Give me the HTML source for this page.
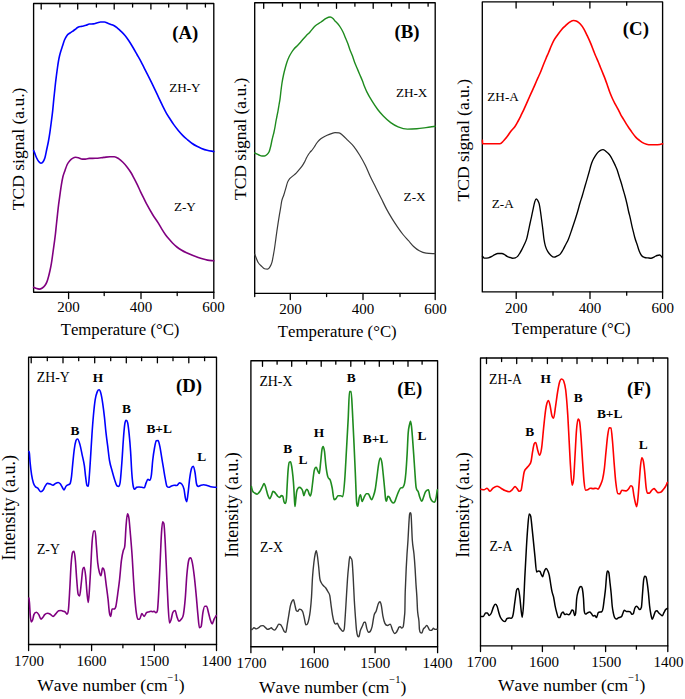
<!DOCTYPE html>
<html><head><meta charset="utf-8"><title>TPD and IR figure</title>
<style>
html,body{margin:0;padding:0;background:#fff;}
body{width:685px;height:699px;overflow:hidden;}
svg{display:block;}
text{font-family:"Liberation Serif",serif;fill:#000;font-kerning:none;}
</style></head>
<body>
<svg width="685" height="699" viewBox="0 0 685 699">
<rect width="685" height="699" fill="#fff"/>
<rect x="33.6" y="3.5" width="180.2" height="288.7" fill="none" stroke="#000" stroke-width="1.35" stroke-linejoin="round"/>
<line x1="41.2" y1="3.5" x2="41.2" y2="9.1" stroke="#000" stroke-width="1.3" stroke-linecap="round"/>
<line x1="59.9" y1="3.5" x2="59.9" y2="7" stroke="#000" stroke-width="1.3" stroke-linecap="round"/>
<line x1="77.7" y1="3.5" x2="77.7" y2="9.1" stroke="#000" stroke-width="1.3" stroke-linecap="round"/>
<line x1="96.4" y1="3.5" x2="96.4" y2="7" stroke="#000" stroke-width="1.3" stroke-linecap="round"/>
<line x1="114.2" y1="3.5" x2="114.2" y2="9.1" stroke="#000" stroke-width="1.3" stroke-linecap="round"/>
<line x1="132.6" y1="3.5" x2="132.6" y2="7" stroke="#000" stroke-width="1.3" stroke-linecap="round"/>
<line x1="150.9" y1="3.5" x2="150.9" y2="9.1" stroke="#000" stroke-width="1.3" stroke-linecap="round"/>
<line x1="168.7" y1="3.5" x2="168.7" y2="7" stroke="#000" stroke-width="1.3" stroke-linecap="round"/>
<line x1="187" y1="3.5" x2="187" y2="9.1" stroke="#000" stroke-width="1.3" stroke-linecap="round"/>
<line x1="205.4" y1="3.5" x2="205.4" y2="7" stroke="#000" stroke-width="1.3" stroke-linecap="round"/>
<line x1="68.6" y1="292.2" x2="68.6" y2="298.6" stroke="#000" stroke-width="1.3" stroke-linecap="round"/>
<line x1="104.2" y1="292.2" x2="104.2" y2="295.6" stroke="#000" stroke-width="1.3" stroke-linecap="round"/>
<line x1="141" y1="292.2" x2="141" y2="298.6" stroke="#000" stroke-width="1.3" stroke-linecap="round"/>
<line x1="177.2" y1="292.2" x2="177.2" y2="295.6" stroke="#000" stroke-width="1.3" stroke-linecap="round"/>
<line x1="213.8" y1="292.2" x2="213.8" y2="298.4" stroke="#000" stroke-width="1.3" stroke-linecap="round"/>
<text x="68.4" y="312.4" font-size="15" text-anchor="middle" font-weight="normal">200</text>
<text x="140.9" y="312.4" font-size="15" text-anchor="middle" font-weight="normal">400</text>
<text x="213.4" y="312.4" font-size="15" text-anchor="middle" font-weight="normal">600</text>
<text x="120.05" y="335" font-size="16.75" text-anchor="middle" font-weight="normal">Temperature (°C)</text>
<text x="0" y="0" font-size="17.5" text-anchor="middle" transform="translate(23.8,148.9) rotate(-90)">TCD signal (a.u.)</text>
<text x="185.3" y="38.7" font-size="18.8" text-anchor="middle" font-weight="bold">(A)</text>
<text x="184.9" y="91.5" font-size="13.2" text-anchor="middle" font-weight="normal">ZH-Y</text>
<text x="184.9" y="210.8" font-size="13.2" text-anchor="middle" font-weight="normal">Z-Y</text>
<path d="M33.6,150.5 C33.87,151.13 34.13,151.74 34.4,152.4 C35.07,154.04 35.73,156.07 36.4,157.5 C37.17,159.14 37.93,160.55 38.7,161.5 C39.47,162.45 40.23,163.2 41,163.2 C41.77,163.2 42.53,162.69 43.3,161.5 C43.87,160.62 44.43,159.5 45,157.5 C45.57,155.5 46.13,152.17 46.7,149.5 C47.27,146.83 47.83,144.57 48.4,141.5 C48.9,138.79 49.4,135.67 49.9,132.3 C50.37,129.15 50.83,125.62 51.3,122 C51.77,118.38 52.23,114.92 52.7,110.6 C53.07,107.21 53.43,102.85 53.8,99.2 C54.1,96.21 54.4,93.46 54.7,90.6 C54.97,88.06 55.23,85.33 55.5,83 C55.83,80.08 56.17,77.58 56.5,75 C56.83,72.42 57.17,69.83 57.5,67.5 C57.83,65.17 58.17,62.92 58.5,61 C58.83,59.08 59.17,57.45 59.5,56 C59.93,54.12 60.37,52.66 60.8,51.2 C61.37,49.29 61.93,47.72 62.5,46 C63.17,43.98 63.83,41.61 64.5,40 C65.33,37.98 66.17,36.5 67,35.4 C68,34.08 69,33.72 70,33 C70.83,32.4 71.67,31.98 72.5,31.4 C73.33,30.82 74.17,30.12 75,29.5 C76,28.75 77,27.79 78,27.3 C79.33,26.64 80.67,26.63 82,26.3 C83.37,25.96 84.73,25.74 86.1,25.3 C87.17,24.95 88.23,24.07 89.3,24 C90.63,23.92 91.97,23.96 93.3,23.9 C94.63,23.84 95.97,23.15 97.3,22.8 C98.37,22.52 99.43,22 100.5,22 C101.83,22 103.17,22 104.5,22 C105.6,22 106.7,22.79 107.8,23.2 C108.87,23.59 109.93,23.98 111,24.4 C112.07,24.82 113.13,25.08 114.2,25.7 C115.27,26.32 116.33,27.23 117.4,28.1 C118.6,29.08 119.8,30.14 121,31.3 C122.33,32.59 123.67,33.88 125,35.5 C126.33,37.12 127.67,39 129,41 C130.33,43 131.67,45.25 133,47.5 C134.33,49.75 135.67,52.15 137,54.5 C138.33,56.85 139.67,59.08 141,61.6 C142.17,63.8 143.33,66.3 144.5,68.6 C145.7,70.97 146.9,73.23 148.1,75.6 C149.27,77.9 150.43,80.22 151.6,82.6 C152.83,85.12 154.07,87.69 155.3,90.3 C156.43,92.7 157.57,95.19 158.7,97.6 C159.93,100.22 161.17,102.9 162.4,105.4 C163.67,107.97 164.93,110.54 166.2,112.8 C167.43,115 168.67,116.87 169.9,118.8 C171.13,120.73 172.37,122.67 173.6,124.4 C175.17,126.6 176.73,128.61 178.3,130.5 C179.83,132.35 181.37,134.06 182.9,135.6 C184.47,137.17 186.03,138.47 187.6,139.8 C189.13,141.1 190.67,142.43 192.2,143.5 C193.77,144.6 195.33,145.48 196.9,146.3 C198.43,147.11 199.97,147.79 201.5,148.4 C203.37,149.14 205.23,149.82 207.1,150.3 C209.33,150.88 211.57,151.1 213.8,151.5" fill="none" stroke="#0000ff" stroke-width="1.6" stroke-linejoin="round" stroke-linecap="round"/>
<path d="M33.6,287.3 C34.6,287.73 35.6,288.29 36.6,288.6 C37.47,288.87 38.33,289.1 39.2,289.1 C40.23,289.1 41.27,288.68 42.3,288 C43.17,287.43 44.03,286.7 44.9,285.5 C45.57,284.58 46.23,283.58 46.9,281.9 C47.43,280.55 47.97,278.67 48.5,276.7 C49,274.85 49.5,272.82 50,270.5 C50.47,268.34 50.93,266.09 51.4,263.3 C51.8,260.9 52.2,257.93 52.6,255.1 C52.93,252.74 53.27,250.22 53.6,247.8 C53.93,245.38 54.27,243.13 54.6,240.6 C54.9,238.32 55.2,236.08 55.5,233.4 C55.77,231.02 56.03,228.05 56.3,225.5 C56.7,221.67 57.1,218.01 57.5,214.4 C57.87,211.09 58.23,207.67 58.6,204.7 C59.03,201.19 59.47,198.2 59.9,195.1 C60.37,191.76 60.83,188.27 61.3,185.4 C61.83,182.12 62.37,179.05 62.9,176.8 C63.6,173.85 64.3,172.41 65,170.4 C65.73,168.3 66.47,166.02 67.2,164.5 C68.07,162.7 68.93,161.7 69.8,160.7 C70.7,159.66 71.6,158.93 72.5,158.4 C73.6,157.75 74.7,157.3 75.8,157.3 C76.87,157.3 77.93,157.7 79,158 C80.07,158.3 81.13,159.1 82.2,159.1 C83.27,159.1 84.33,159.1 85.4,159.1 C86.67,159.1 87.93,158.45 89.2,158.4 C91.2,158.31 93.2,158.35 95.2,158.3 C98.07,158.23 100.93,157.71 103.8,157.4 C105.87,157.18 107.93,156.7 110,156.7 C111.43,156.7 112.87,156.7 114.3,156.7 C115.73,156.7 117.17,157.67 118.6,158.6 C120.03,159.53 121.47,160.87 122.9,162.3 C124.33,163.73 125.77,165.36 127.2,167.2 C128.43,168.79 129.67,170.48 130.9,172.5 C131.97,174.25 133.03,176.37 134.1,178.4 C135.2,180.5 136.3,182.63 137.4,184.9 C138.47,187.1 139.53,189.57 140.6,191.8 C141.67,194.03 142.73,196.15 143.8,198.3 C144.87,200.45 145.93,202.7 147,204.7 C148.87,208.2 150.73,211.47 152.6,214.5 C154.57,217.69 156.53,220.12 158.5,223.3 C159.67,225.19 160.83,227.5 162,229.4 C163.17,231.3 164.33,233.08 165.5,234.7 C166.67,236.32 167.83,237.72 169,239.1 C170.17,240.48 171.33,241.82 172.5,243 C173.97,244.48 175.43,245.83 176.9,247 C178.37,248.17 179.83,249.11 181.3,250 C183.03,251.06 184.77,251.96 186.5,252.8 C188.27,253.66 190.03,254.39 191.8,255.1 C193.53,255.79 195.27,256.39 197,257 C198.77,257.62 200.53,258.28 202.3,258.8 C204.03,259.31 205.77,259.79 207.5,260.1 C209.6,260.48 211.7,260.57 213.8,260.8" fill="none" stroke="#800080" stroke-width="1.6" stroke-linejoin="round" stroke-linecap="round"/>
<rect x="254.7" y="2.7" width="180.5" height="290.7" fill="none" stroke="#000" stroke-width="1.35" stroke-linejoin="round"/>
<line x1="263.7" y1="2.7" x2="263.7" y2="8.3" stroke="#000" stroke-width="1.3" stroke-linecap="round"/>
<line x1="282.5" y1="2.7" x2="282.5" y2="6.2" stroke="#000" stroke-width="1.3" stroke-linecap="round"/>
<line x1="300.3" y1="2.7" x2="300.3" y2="8.3" stroke="#000" stroke-width="1.3" stroke-linecap="round"/>
<line x1="318.2" y1="2.7" x2="318.2" y2="6.2" stroke="#000" stroke-width="1.3" stroke-linecap="round"/>
<line x1="336.5" y1="2.7" x2="336.5" y2="8.3" stroke="#000" stroke-width="1.3" stroke-linecap="round"/>
<line x1="354.9" y1="2.7" x2="354.9" y2="6.2" stroke="#000" stroke-width="1.3" stroke-linecap="round"/>
<line x1="373.2" y1="2.7" x2="373.2" y2="8.3" stroke="#000" stroke-width="1.3" stroke-linecap="round"/>
<line x1="391.5" y1="2.7" x2="391.5" y2="6.2" stroke="#000" stroke-width="1.3" stroke-linecap="round"/>
<line x1="409.1" y1="2.7" x2="409.1" y2="8.3" stroke="#000" stroke-width="1.3" stroke-linecap="round"/>
<line x1="428.1" y1="2.7" x2="428.1" y2="6.2" stroke="#000" stroke-width="1.3" stroke-linecap="round"/>
<line x1="254.7" y1="293.4" x2="254.7" y2="296.5" stroke="#000" stroke-width="1.3" stroke-linecap="round"/>
<line x1="290.3" y1="293.4" x2="290.3" y2="299.5" stroke="#000" stroke-width="1.3" stroke-linecap="round"/>
<line x1="326.6" y1="293.4" x2="326.6" y2="296.5" stroke="#000" stroke-width="1.3" stroke-linecap="round"/>
<line x1="363" y1="293.4" x2="363" y2="299.5" stroke="#000" stroke-width="1.3" stroke-linecap="round"/>
<line x1="400" y1="293.4" x2="400" y2="296.5" stroke="#000" stroke-width="1.3" stroke-linecap="round"/>
<line x1="435.2" y1="293.4" x2="435.2" y2="299.5" stroke="#000" stroke-width="1.3" stroke-linecap="round"/>
<text x="290.4" y="313.7" font-size="15" text-anchor="middle" font-weight="normal">200</text>
<text x="363" y="313.7" font-size="15" text-anchor="middle" font-weight="normal">400</text>
<text x="435.4" y="313.7" font-size="15" text-anchor="middle" font-weight="normal">600</text>
<text x="337.25" y="336.7" font-size="16.75" text-anchor="middle" font-weight="normal">Temperature (°C)</text>
<text x="0" y="0" font-size="17.5" text-anchor="middle" transform="translate(245.5,138.8) rotate(-90)">TCD signal (a.u.)</text>
<text x="406.9" y="37.8" font-size="18.8" text-anchor="middle" font-weight="bold">(B)</text>
<text x="411.65" y="97.4" font-size="13.2" text-anchor="middle" font-weight="normal">ZH-X</text>
<text x="414.6" y="201" font-size="13.2" text-anchor="middle" font-weight="normal">Z-X</text>
<path d="M254.7,153 C256.13,153.67 257.57,154.43 259,155 C260,155.4 261,156 262,156 C262.83,156 263.67,156 264.5,156 C265.33,156 266.17,155.27 267,154.5 C267.67,153.88 268.33,153.42 269,152 C269.33,151.29 269.67,150.17 270,149 C270.33,147.83 270.67,146.5 271,145 C271.33,143.5 271.67,141.5 272,140 C272.33,138.5 272.67,137.33 273,136 C273.33,134.67 273.67,133.5 274,132 C274.33,130.5 274.67,128.83 275,127 C275.33,125.17 275.67,122.83 276,121 C276.33,119.17 276.67,117.67 277,116 C277.33,114.33 277.67,112.83 278,111 C278.33,109.17 278.67,106.97 279,105 C279.33,103.03 279.67,101.62 280,99.2 C280.33,96.78 280.67,93.2 281,90.5 C281.33,87.8 281.67,85.14 282,83 C282.5,79.79 283,77.33 283.5,75 C284.17,71.89 284.83,69.44 285.5,67 C286,65.17 286.5,63.46 287,62 C287.67,60.06 288.33,58.43 289,57 C289.83,55.21 290.67,53.83 291.5,52.5 C292.33,51.17 293.17,50 294,49 C295.33,47.4 296.67,46.42 298,45 C299.33,43.58 300.67,42 302,40.5 C303.33,39 304.67,37.42 306,36 C307.33,34.58 308.67,33.45 310,32 C311.7,30.15 313.4,27.57 315.1,26 C317.1,24.16 319.1,23.39 321.1,22 C322.77,20.84 324.43,19.28 326.1,18.4 C327.47,17.67 328.83,17 330.2,17 C331.13,17 332.07,17.67 333,18.5 C333.67,19.1 334.33,20.25 335,21 C336,22.12 337,22.8 338,24 C338.83,25 339.67,26.17 340.5,27.5 C341.33,28.83 342.17,30.25 343,32 C343.83,33.75 344.67,36 345.5,38 C346.33,40 347.17,41.75 348,44 C348.67,45.8 349.33,48.2 350,50 C350.83,52.25 351.67,53.75 352.5,56 C353.17,57.8 353.83,60.2 354.5,62 C355.33,64.25 356.17,66 357,68 C357.83,70 358.67,72.02 359.5,74 C360.47,76.29 361.43,78.34 362.4,80.8 C363.07,82.5 363.73,84.62 364.4,86.3 C365.17,88.24 365.93,90.04 366.7,91.6 C368.5,95.27 370.3,98.27 372.1,101.2 C373.97,104.24 375.83,107.03 377.7,109.5 C379.57,111.97 381.43,114.08 383.3,116 C385.77,118.53 388.23,120.8 390.7,122.6 C393.17,124.4 395.63,125.79 398.1,126.8 C401.2,128.06 404.3,129.1 407.4,129.1 C410.5,129.1 413.6,128.95 416.7,128.7 C419.8,128.45 422.9,128 426,127.6 C429.07,127.2 432.13,126.73 435.2,126.3" fill="none" stroke="#1e8b1e" stroke-width="1.4" stroke-linejoin="round" stroke-linecap="round"/>
<path d="M254.7,254.2 C255.8,256.87 256.9,260.26 258,262.2 C259.33,264.55 260.67,265.31 262,266.6 C262.83,267.41 263.67,268.38 264.5,268.7 C265.53,269.1 266.57,269.1 267.6,269.1 C268.43,269.1 269.27,267.98 270.1,266.6 C270.73,265.55 271.37,264.57 272,262.2 C272.4,260.7 272.8,258.19 273.2,256 C273.63,253.63 274.07,251.32 274.5,248.5 C274.9,245.9 275.3,242.7 275.7,239.8 C276.1,236.9 276.5,233.89 276.9,231.1 C277.33,228.08 277.77,225.2 278.2,222.4 C278.6,219.81 279,217.3 279.4,214.9 C279.83,212.3 280.27,209.99 280.7,207.4 C281.03,205.41 281.37,202.73 281.7,201.2 C282.4,198 283.1,197.23 283.8,195 C284.5,192.77 285.2,190.17 285.9,187.8 C286.47,185.88 287.03,183.51 287.6,182.1 C288.3,180.36 289,179.57 289.7,178.7 C290.7,177.46 291.7,176.96 292.7,176.1 C293.87,175.09 295.03,174.27 296.2,173.1 C297.33,171.96 298.47,170.59 299.6,169.2 C300.47,168.14 301.33,167.07 302.2,165.8 C302.9,164.78 303.6,163.69 304.3,162.4 C304.87,161.36 305.43,160.02 306,158.9 C306.6,157.72 307.2,156.5 307.8,155.5 C308.5,154.34 309.2,153.4 309.9,152.5 C310.77,151.38 311.63,150.62 312.5,149.5 C313.2,148.6 313.9,147.56 314.6,146.5 C315.33,145.39 316.07,144.01 316.8,143 C317.67,141.81 318.53,140.82 319.4,140 C320.53,138.93 321.67,138.21 322.8,137.5 C324.23,136.61 325.67,135.95 327.1,135.3 C328.53,134.65 329.97,134.06 331.4,133.6 C332.6,133.21 333.8,132.7 335,132.7 C336.37,132.7 337.73,132.7 339.1,132.8 C340.27,132.89 341.43,134.23 342.6,135.2 C344.37,136.67 346.13,138.63 347.9,140.4 C349.83,142.33 351.77,143.89 353.7,146.3 C355.67,148.75 357.63,151.77 359.6,155 C361.53,158.18 363.47,161.57 365.4,165.5 C367.07,168.89 368.73,173.27 370.4,176.8 C372.23,180.69 374.07,184.05 375.9,187.7 C377.7,191.28 379.5,194.88 381.3,198.5 C383.1,202.12 384.9,206.03 386.7,209.4 C388.53,212.83 390.37,215.92 392.2,218.9 C394,221.82 395.8,224.5 397.6,227.1 C399.4,229.7 401.2,232.25 403,234.5 C404.83,236.79 406.67,238.63 408.5,240.7 C410.3,242.73 412.1,245.12 413.9,246.8 C415.7,248.48 417.5,249.82 419.3,250.8 C421.57,252.04 423.83,252.91 426.1,253.2 C429.13,253.59 432.17,253.51 435.2,253.6" fill="none" stroke="#3a3a3a" stroke-width="1.2" stroke-linejoin="round" stroke-linecap="round"/>
<rect x="482.3" y="1.9" width="180.3" height="290" fill="none" stroke="#000" stroke-width="1.35" stroke-linejoin="round"/>
<line x1="516.1" y1="1.9" x2="516.1" y2="8.1" stroke="#000" stroke-width="1.3" stroke-linecap="round"/>
<line x1="553.3" y1="1.9" x2="553.3" y2="5.2" stroke="#000" stroke-width="1.3" stroke-linecap="round"/>
<line x1="589.9" y1="1.9" x2="589.9" y2="8.1" stroke="#000" stroke-width="1.3" stroke-linecap="round"/>
<line x1="626.7" y1="1.9" x2="626.7" y2="5.2" stroke="#000" stroke-width="1.3" stroke-linecap="round"/>
<line x1="516.2" y1="291.9" x2="516.2" y2="298.4" stroke="#000" stroke-width="1.3" stroke-linecap="round"/>
<line x1="553" y1="291.9" x2="553" y2="295.2" stroke="#000" stroke-width="1.3" stroke-linecap="round"/>
<line x1="590" y1="291.9" x2="590" y2="298.4" stroke="#000" stroke-width="1.3" stroke-linecap="round"/>
<line x1="626.7" y1="291.9" x2="626.7" y2="295.2" stroke="#000" stroke-width="1.3" stroke-linecap="round"/>
<line x1="662.6" y1="291.9" x2="662.6" y2="298.4" stroke="#000" stroke-width="1.3" stroke-linecap="round"/>
<text x="516.3" y="312.8" font-size="15" text-anchor="middle" font-weight="normal">200</text>
<text x="589.9" y="312.8" font-size="15" text-anchor="middle" font-weight="normal">400</text>
<text x="662.8" y="312.8" font-size="15" text-anchor="middle" font-weight="normal">600</text>
<text x="571.15" y="333.5" font-size="16.75" text-anchor="middle" font-weight="normal">Temperature (°C)</text>
<text x="0" y="0" font-size="17.5" text-anchor="middle" transform="translate(468.6,140.2) rotate(-90)">TCD signal (a.u.)</text>
<text x="635.9" y="34.9" font-size="18.8" text-anchor="middle" font-weight="bold">(C)</text>
<text x="503.05" y="101.2" font-size="13.2" text-anchor="middle" font-weight="normal">ZH-A</text>
<text x="502.7" y="207.7" font-size="13.2" text-anchor="middle" font-weight="normal">Z-A</text>
<path d="M482.4,140.3 C482.47,141.43 482.53,143.7 482.6,143.7 C485.73,143.7 488.87,143.7 492,143.7 C494.67,143.7 497.33,143.7 500,143.7 C501.2,143.7 502.4,141.98 503.6,140.8 C504.8,139.62 506,138.17 507.2,136.6 C508.37,135.07 509.53,133.03 510.7,131.5 C512.13,129.62 513.57,128.57 515,126.5 C515.97,125.1 516.93,123.28 517.9,121.5 C518.87,119.72 519.83,117.73 520.8,115.8 C521.73,113.93 522.67,112.1 523.6,110.1 C524.57,108.03 525.53,105.79 526.5,103.6 C527.43,101.49 528.37,99.3 529.3,97.2 C530.27,95.03 531.23,92.95 532.2,90.8 C533.17,88.65 534.13,86.49 535.1,84.3 C536.03,82.19 536.97,80 537.9,77.9 C538.87,75.73 539.83,73.81 540.8,71.5 C541.73,69.27 542.67,66.64 543.6,64.3 C544.43,62.21 545.27,60.17 546.1,58.2 C546.93,56.23 547.77,54.48 548.6,52.5 C549.37,50.68 550.13,48.57 550.9,46.8 C551.93,44.42 552.97,42.07 554,40.2 C555.17,38.09 556.33,36.64 557.5,35 C558.83,33.13 560.17,31.25 561.5,29.7 C562.8,28.19 564.1,27.03 565.4,25.8 C566.7,24.57 568,23.18 569.3,22.3 C570.63,21.4 571.97,20.5 573.3,20.5 C574.47,20.5 575.63,20.62 576.8,21.2 C577.97,21.78 579.13,22.73 580.3,24 C581.47,25.27 582.63,26.83 583.8,28.8 C584.9,30.65 586,33.08 587.1,35.4 C588.33,38 589.57,40.64 590.8,43.6 C591.77,45.92 592.73,48.65 593.7,51.1 C594.47,53.04 595.23,54.98 596,56.8 C596.77,58.62 597.53,60.18 598.3,62 C599.07,63.82 599.83,65.8 600.6,67.7 C601.37,69.6 602.13,71.5 602.9,73.4 C603.67,75.3 604.43,77.07 605.2,79.1 C605.9,80.95 606.6,83 607.3,85 C608.1,87.29 608.9,89.87 609.7,92 C610.6,94.4 611.5,96.52 612.4,98.5 C613.33,100.56 614.27,102.32 615.2,104.1 C616.13,105.88 617.07,107.42 618,109.2 C618.93,110.98 619.87,113.1 620.8,114.8 C621.73,116.5 622.67,117.85 623.6,119.4 C624.53,120.95 625.47,122.62 626.4,124.1 C627.33,125.58 628.27,126.92 629.2,128.3 C630.13,129.68 631.07,131.12 632,132.4 C633.23,134.09 634.47,135.78 635.7,137.1 C636.93,138.42 638.17,139.36 639.4,140.3 C640.97,141.49 642.53,142.66 644.1,143.4 C645.63,144.12 647.17,144.62 648.7,144.7 C650.57,144.8 652.43,144.8 654.3,144.8 C656.17,144.8 658.03,144.79 659.9,144.5 C660.8,144.36 661.7,144.03 662.6,143.8" fill="none" stroke="#ff0000" stroke-width="1.6" stroke-linejoin="round" stroke-linecap="round"/>
<path d="M482.4,256.3 C483.03,256.9 483.67,258.1 484.3,258.1 C485.67,258.1 487.03,258.1 488.4,257.8 C489.57,257.54 490.73,257 491.9,256.4 C492.87,255.91 493.83,255.08 494.8,254.6 C495.8,254.11 496.8,253.5 497.8,253.5 C499.17,253.5 500.53,253.5 501.9,253.5 C502.67,253.5 503.43,253.89 504.2,254.3 C505.17,254.82 506.13,255.87 507.1,256.4 C508.07,256.93 509.03,257.18 510,257.5 C510.8,257.77 511.6,258.2 512.4,258.2 C513.37,258.2 514.33,258.16 515.3,257.8 C516.07,257.51 516.83,257.21 517.6,256.4 C518.4,255.56 519.2,254.08 520,252.8 C520.57,251.89 521.13,250.96 521.7,249.9 C522.57,248.28 523.43,246.56 524.3,244.6 C525.13,242.72 525.97,241.31 526.8,238.4 C527.33,236.54 527.87,233.68 528.4,231.2 C528.9,228.88 529.4,226.32 529.9,224 C530.43,221.52 530.97,219.28 531.5,216.8 C532,214.48 532.5,211.92 533,209.6 C533.53,207.12 534.07,204.24 534.6,202.4 C535.1,200.68 535.6,198.8 536.1,198.8 C536.63,198.8 537.17,199.41 537.7,200.3 C538.2,201.13 538.7,201.82 539.2,203.9 C539.63,205.7 540.07,208.68 540.5,211.6 C540.87,214.07 541.23,217.11 541.6,219.9 C542,222.94 542.4,225.85 542.8,229.1 C543.2,232.35 543.6,236.73 544,239.4 C544.47,242.52 544.93,244.47 545.4,246.1 C546.27,249.12 547.13,250.33 548,251.8 C549,253.5 550,254.53 551,255.4 C552.03,256.3 553.07,257.1 554.1,257.1 C555.13,257.1 556.17,256.38 557.2,255.9 C558.13,255.47 559.07,255.36 560,254.4 C560.97,253.41 561.93,251.66 562.9,250 C563.77,248.51 564.63,246.7 565.5,245 C566.5,243.04 567.5,241.43 568.5,239 C569.67,236.17 570.83,232.42 572,229 C573,226.07 574,223.1 575,220 C575.83,217.42 576.67,214.83 577.5,212 C578.33,209.17 579.17,205.83 580,203 C580.83,200.17 581.67,197.8 582.5,195 C583.4,191.98 584.3,188.6 585.2,185.5 C585.9,183.09 586.6,180.82 587.3,178.4 C588,175.98 588.7,173.53 589.4,171 C589.87,169.31 590.33,167.31 590.8,165.8 C591.43,163.76 592.07,162.04 592.7,160.6 C593.57,158.63 594.43,157.27 595.3,155.9 C596.17,154.53 597.03,153.33 597.9,152.4 C598.77,151.47 599.63,150.77 600.5,150.3 C601.33,149.85 602.17,149.6 603,149.6 C603.73,149.6 604.47,150.19 605.2,150.7 C606.03,151.27 606.87,152.05 607.7,152.9 C608.57,153.78 609.43,154.62 610.3,155.9 C611.17,157.18 612.03,158.93 612.9,160.6 C613.6,161.95 614.3,163.37 615,164.9 C615.73,166.5 616.47,167.95 617.2,170 C617.9,171.96 618.6,174.65 619.3,176.9 C620.03,179.25 620.77,181.36 621.5,183.8 C622.07,185.69 622.63,187.82 623.2,189.8 C623.8,191.89 624.4,193.77 625,196 C625.67,198.48 626.33,201.1 627,204 C627.53,206.32 628.07,209.18 628.6,211.5 C629.13,213.82 629.67,215.58 630.2,217.9 C630.73,220.22 631.27,223.07 631.8,225.4 C632.33,227.73 632.87,229.75 633.4,231.9 C633.93,234.05 634.47,236.45 635,238.3 C635.73,240.85 636.47,242.6 637.2,244.8 C637.9,246.9 638.6,249.45 639.3,251.2 C640.03,253.03 640.77,254.55 641.5,255.5 C642.57,256.88 643.63,257.12 644.7,257.5 C645.77,257.88 646.83,257.79 647.9,257.9 C648.97,258.01 650.03,258.2 651.1,258.2 C652.2,258.2 653.3,257.3 654.4,256.8 C655.3,256.39 656.2,255.8 657.1,255.5 C657.97,255.21 658.83,255 659.7,255 C660.6,255 661.5,256.8 662.4,257.7" fill="none" stroke="#000000" stroke-width="1.35" stroke-linejoin="round" stroke-linecap="round"/>
<rect x="28.6" y="357.2" width="187.9" height="287.3" fill="none" stroke="#000" stroke-width="1.35" stroke-linejoin="round"/>
<line x1="31.2" y1="357.2" x2="31.2" y2="362.8" stroke="#000" stroke-width="1.3" stroke-linecap="round"/>
<line x1="47.3" y1="357.2" x2="47.3" y2="360.7" stroke="#000" stroke-width="1.3" stroke-linecap="round"/>
<line x1="63" y1="357.2" x2="63" y2="362.8" stroke="#000" stroke-width="1.3" stroke-linecap="round"/>
<line x1="78.7" y1="357.2" x2="78.7" y2="360.7" stroke="#000" stroke-width="1.3" stroke-linecap="round"/>
<line x1="94.7" y1="357.2" x2="94.7" y2="362.8" stroke="#000" stroke-width="1.3" stroke-linecap="round"/>
<line x1="110.7" y1="357.2" x2="110.7" y2="360.7" stroke="#000" stroke-width="1.3" stroke-linecap="round"/>
<line x1="126.3" y1="357.2" x2="126.3" y2="362.8" stroke="#000" stroke-width="1.3" stroke-linecap="round"/>
<line x1="141.6" y1="357.2" x2="141.6" y2="360.7" stroke="#000" stroke-width="1.3" stroke-linecap="round"/>
<line x1="157.4" y1="357.2" x2="157.4" y2="362.8" stroke="#000" stroke-width="1.3" stroke-linecap="round"/>
<line x1="173" y1="357.2" x2="173" y2="360.7" stroke="#000" stroke-width="1.3" stroke-linecap="round"/>
<line x1="188.8" y1="357.2" x2="188.8" y2="362.8" stroke="#000" stroke-width="1.3" stroke-linecap="round"/>
<line x1="204.6" y1="357.2" x2="204.6" y2="360.7" stroke="#000" stroke-width="1.3" stroke-linecap="round"/>
<line x1="28.6" y1="644.5" x2="28.6" y2="650.5" stroke="#000" stroke-width="1.3" stroke-linecap="round"/>
<line x1="60.1" y1="644.5" x2="60.1" y2="647.8" stroke="#000" stroke-width="1.3" stroke-linecap="round"/>
<line x1="91.6" y1="644.5" x2="91.6" y2="650.5" stroke="#000" stroke-width="1.3" stroke-linecap="round"/>
<line x1="122.9" y1="644.5" x2="122.9" y2="647.8" stroke="#000" stroke-width="1.3" stroke-linecap="round"/>
<line x1="154.3" y1="644.5" x2="154.3" y2="650.5" stroke="#000" stroke-width="1.3" stroke-linecap="round"/>
<line x1="185.4" y1="644.5" x2="185.4" y2="647.8" stroke="#000" stroke-width="1.3" stroke-linecap="round"/>
<line x1="216.5" y1="644.5" x2="216.5" y2="650.5" stroke="#000" stroke-width="1.3" stroke-linecap="round"/>
<text x="29" y="665.5" font-size="15" text-anchor="middle" font-weight="normal">1700</text>
<text x="91.6" y="665.5" font-size="15" text-anchor="middle" font-weight="normal">1600</text>
<text x="154.2" y="665.5" font-size="15" text-anchor="middle" font-weight="normal">1500</text>
<text x="216.6" y="665.5" font-size="15" text-anchor="middle" font-weight="normal">1400</text>
<text x="37.3" y="690.6" font-size="17.5">Wave number (cm<tspan dy="-9.6" font-size="10.5">&#8722;1</tspan><tspan dy="9.6">)</tspan></text>
<text x="0" y="0" font-size="18" text-anchor="middle" transform="translate(14.9,507.85) rotate(-90)">Intensity (a.u.)</text>
<text x="189" y="391.6" font-size="18.8" text-anchor="middle" font-weight="bold">(D)</text>
<text x="53.35" y="382.4" font-size="13.8" text-anchor="middle" font-weight="normal">ZH-Y</text>
<text x="48.4" y="554.2" font-size="13.8" text-anchor="middle" font-weight="normal">Z-Y</text>
<text x="98" y="382.2" font-size="13.4" text-anchor="middle" font-weight="bold">H</text>
<text x="75" y="434.7" font-size="13.4" text-anchor="middle" font-weight="bold">B</text>
<text x="126.45" y="413.1" font-size="13.4" text-anchor="middle" font-weight="bold">B</text>
<text x="159.2" y="432.9" font-size="13.4" text-anchor="middle" font-weight="bold">B+L</text>
<text x="201.6" y="460.9" font-size="13.4" text-anchor="middle" font-weight="bold">L</text>
<path d="M28.9,451.5 C29.07,452.1 29.23,451.93 29.4,453.3 C29.63,455.22 29.87,459.83 30.1,462.3 C30.6,467.6 31.1,471.59 31.6,474.8 C32.2,478.65 32.8,480.97 33.4,482.9 C34,484.83 34.6,485.61 35.2,486.4 C36.07,487.54 36.93,487.4 37.8,488.2 C38.83,489.16 39.87,491.8 40.9,491.8 C41.67,491.8 42.43,491.07 43.2,490 C43.8,489.17 44.4,487.39 45,486.4 C45.77,485.13 46.53,483.4 47.3,483.4 C48.33,483.4 49.37,483.76 50.4,484.1 C51.27,484.38 52.13,485.2 53,485.2 C53.9,485.2 54.8,483.87 55.7,483.4 C56.5,482.98 57.3,482.5 58.1,482.5 C58.8,482.5 59.5,483 60.2,483.8 C60.9,484.6 61.6,486.19 62.3,487.3 C62.9,488.25 63.5,490 64.1,490 C64.7,490 65.3,487.22 65.9,486.4 C66.67,485.35 67.43,484.96 68.2,484.7 C68.8,484.5 69.4,484.68 70,483.8 C70.5,483.07 71,480.4 71.5,476.6 C71.9,473.56 72.3,468.09 72.7,464.1 C73.2,459.11 73.7,453.51 74.2,449.8 C74.77,445.6 75.33,442.6 75.9,440.8 C76.47,439 77.03,439 77.6,439 C78.37,439 79.13,441.72 79.9,444.4 C80.67,447.08 81.43,451.43 82.2,455.1 C82.93,458.61 83.67,460.83 84.4,465.9 C84.8,468.67 85.2,473.55 85.6,476.6 C86.07,480.16 86.53,484.75 87,485.5 C87.43,486.2 87.87,486.2 88.3,486.2 C88.67,486.2 89.03,479.48 89.4,474.8 C89.83,469.27 90.27,461.92 90.7,455.1 C91.1,448.8 91.5,441.39 91.9,435.5 C92.4,428.13 92.9,421.32 93.4,415.8 C94,409.18 94.6,403.54 95.2,399.7 C95.9,395.22 96.6,393.3 97.3,391.6 C97.9,390.14 98.5,389.8 99.1,389.8 C99.7,389.8 100.3,391.15 100.9,393.4 C101.5,395.65 102.1,399.27 102.7,403.3 C103.3,407.33 103.9,412.15 104.5,417.6 C104.97,421.84 105.43,427.66 105.9,431.9 C106.5,437.35 107.1,441.43 107.7,446.2 C108.3,450.97 108.9,456.93 109.5,460.5 C110.4,465.86 111.3,467.86 112.2,471.2 C113.07,474.42 113.93,477.58 114.8,480.2 C115.53,482.42 116.27,485.29 117,485.9 C117.6,486.4 118.2,486.4 118.8,486.4 C119.27,486.4 119.73,485.52 120.2,482 C120.8,477.47 121.4,468.69 122,460.5 C122.47,454.13 122.93,445.15 123.4,439 C123.83,433.29 124.27,427.76 124.7,424.7 C125.17,421.4 125.63,420.3 126.1,420.3 C126.63,420.3 127.17,420.41 127.7,422.9 C128.17,425.08 128.63,429.12 129.1,433.7 C129.6,438.61 130.1,444.16 130.6,451.6 C131,457.55 131.4,467.51 131.8,473 C132.23,478.95 132.67,482.86 133.1,485.5 C133.57,488.34 134.03,489.1 134.5,489.1 C135.23,489.1 135.97,487.59 136.7,487.3 C137.47,487 138.23,487 139,487 C139.9,487 140.8,487.18 141.7,487.3 C142.6,487.42 143.5,487.7 144.4,487.7 C144.97,487.7 145.53,484.27 146.1,482.9 C146.7,481.45 147.3,479.3 147.9,479.3 C148.5,479.3 149.1,480.2 149.7,480.2 C150.27,480.2 150.83,478.82 151.4,474.8 C151.83,471.73 152.27,464.39 152.7,460.5 C153.3,455.12 153.9,451.28 154.5,448 C155.1,444.72 155.7,441.1 156.3,440.8 C156.9,440.5 157.5,440.5 158.1,440.5 C158.67,440.5 159.23,443.57 159.8,446.2 C160.4,448.99 161,453.32 161.6,456.9 C162.2,460.48 162.8,464.12 163.4,467.7 C164,471.28 164.6,475.28 165.2,478.4 C165.8,481.52 166.4,485.5 167,486.4 C167.6,487.3 168.2,487.3 168.8,487.3 C169.7,487.3 170.6,486.25 171.5,485.9 C172.4,485.55 173.3,485.2 174.2,485.2 C175.07,485.2 175.93,485.5 176.8,485.5 C177.7,485.5 178.6,482.9 179.5,482.9 C180.27,482.9 181.03,483.03 181.8,484.1 C182.53,485.12 183.27,485.91 184,489.1 C184.47,491.13 184.93,495.97 185.4,498.1 C185.83,500.08 186.27,501.6 186.7,501.6 C187.1,501.6 187.5,497.47 187.9,494.5 C188.5,490.04 189.1,482.72 189.7,478.4 C190.3,474.08 190.9,470.63 191.5,468.6 C192.1,466.57 192.7,466.2 193.3,466.2 C193.9,466.2 194.5,469.55 195.1,473 C195.57,475.68 196.03,481.78 196.5,483.8 C197.1,486.4 197.7,486.4 198.3,486.4 C199.2,486.4 200.1,485.48 201,485.2 C201.9,484.92 202.8,484.7 203.7,484.7 C204.87,484.7 206.03,485.16 207.2,485.5 C208.4,485.85 209.6,486.53 210.8,486.8 C212.63,487.21 214.47,487.13 216.3,487.3" fill="none" stroke="#0000ff" stroke-width="1.6" stroke-linejoin="round" stroke-linecap="round"/>
<path d="M28.9,598 C29.1,599.8 29.3,600.9 29.5,603.4 C29.73,606.32 29.97,611.95 30.2,614.6 C30.57,618.77 30.93,622 31.3,622 C31.73,622 32.17,621.33 32.6,620.1 C33.03,618.87 33.47,615.72 33.9,614.6 C34.73,612.45 35.57,612.3 36.4,612.3 C37.2,612.3 38,613.38 38.8,614.6 C39.53,615.72 40.27,619.2 41,619.2 C41.63,619.2 42.27,618.09 42.9,617.3 C43.5,616.55 44.1,615.19 44.7,614.6 C45.63,613.68 46.57,613.3 47.5,613.3 C48.43,613.3 49.37,613.68 50.3,614.2 C51.23,614.72 52.17,616.4 53.1,616.4 C54.03,616.4 54.97,614.55 55.9,613.6 C56.8,612.68 57.7,611.12 58.6,610.8 C59.43,610.5 60.27,610.5 61.1,610.5 C61.83,610.5 62.57,610.96 63.3,611.2 C63.9,611.4 64.5,611.32 65.1,611.8 C65.73,612.31 66.37,614.2 67,614.2 C67.5,614.2 68,613.79 68.5,609 C68.93,604.85 69.37,596.03 69.8,588.6 C70.23,581.17 70.67,570.17 71.1,564.4 C71.6,557.75 72.1,553.4 72.6,552.4 C73.1,551.4 73.6,551.4 74.1,551.4 C74.53,551.4 74.97,556.05 75.4,560.7 C75.83,565.35 76.27,573.91 76.7,579.3 C77.17,585.11 77.63,592.33 78.1,594.1 C78.6,596 79.1,596 79.6,596 C80.17,596 80.73,587.79 81.3,583 C81.8,578.77 82.3,571.29 82.8,569.1 C83.23,567.2 83.67,567.2 84.1,567.2 C84.6,567.2 85.1,571.12 85.6,575.6 C86.1,580.08 86.6,589.27 87.1,594.1 C87.5,597.97 87.9,602.5 88.3,602.5 C88.7,602.5 89.1,594.35 89.5,588.6 C89.93,582.37 90.37,574.05 90.8,566.3 C91.23,558.55 91.67,547.74 92.1,542.1 C92.6,535.6 93.1,531 93.6,531 C94.1,531 94.6,531 95.1,531 C95.53,531 95.97,540.63 96.4,545.9 C96.83,551.17 97.27,558.59 97.7,562.6 C98.3,568.15 98.9,570.54 99.5,572.8 C100,574.68 100.5,575.6 101,575.6 C101.5,575.6 102,568.1 102.5,568.1 C103.1,568.1 103.7,568.24 104.3,570.9 C104.93,573.71 105.57,580 106.2,584.8 C106.83,589.6 107.47,594.05 108.1,599.7 C108.53,603.57 108.97,609.92 109.4,612.7 C109.83,615.48 110.27,616.4 110.7,616.4 C111.17,616.4 111.63,609 112.1,609 C112.73,609 113.37,609 114,609 C114.63,609 115.27,608.8 115.9,606.2 C116.5,603.74 117.1,598.45 117.7,594.1 C118.33,589.5 118.97,585.04 119.6,579.3 C120.2,573.86 120.8,565.41 121.4,560.7 C122.03,555.73 122.67,552.88 123.3,550.5 C123.8,548.62 124.3,550.1 124.8,545.9 C125.23,542.26 125.67,530.73 126.1,525.4 C126.53,520.07 126.97,513.9 127.4,513.9 C127.9,513.9 128.4,514.66 128.9,518 C129.37,521.12 129.83,527.46 130.3,532.9 C130.93,540.29 131.57,547.55 132.2,557 C132.63,563.46 133.07,572.48 133.5,579.3 C133.93,586.12 134.37,592.66 134.8,597.9 C135.3,603.94 135.8,609.15 136.3,612.7 C136.8,616.25 137.3,619.2 137.8,619.2 C138.4,619.2 139,619.2 139.6,619.2 C140.37,619.2 141.13,613.6 141.9,613.6 C142.63,613.6 143.37,616.4 144.1,616.4 C144.9,616.4 145.7,613.43 146.5,612.7 C147.43,611.85 148.37,612.1 149.3,611.8 C149.9,611.61 150.5,611.2 151.1,611.2 C151.6,611.2 152.1,611.8 152.6,611.8 C153.1,611.8 153.6,611.2 154.1,611.2 C154.7,611.2 155.3,612.7 155.9,612.7 C156.4,612.7 156.9,612.7 157.4,610.8 C157.9,608.9 158.4,597.67 158.9,588.6 C159.33,580.74 159.77,569.98 160.2,560.7 C160.63,551.42 161.07,539.74 161.5,532.9 C161.87,527.11 162.23,521.7 162.6,521.7 C163.03,521.7 163.47,521.7 163.9,523.6 C164.33,525.5 164.77,534.18 165.2,542.1 C165.7,551.24 166.2,564.67 166.7,575.6 C167.13,585.07 167.57,595.95 168,603.4 C168.5,612 169,622.9 169.5,622.9 C170,622.9 170.5,621.65 171,620.1 C171.57,618.34 172.13,614.19 172.7,612.7 C173.5,610.59 174.3,610.5 175.1,610.5 C175.7,610.5 176.3,614.67 176.9,616.4 C177.53,618.22 178.17,621.1 178.8,621.1 C179.6,621.1 180.4,620.35 181.2,619.2 C181.93,618.14 182.67,618.59 183.4,614.6 C184.03,611.15 184.67,605.39 185.3,597.9 C185.8,591.99 186.3,581.39 186.8,575.6 C187.4,568.66 188,563.35 188.6,560.7 C189.23,557.9 189.87,557.9 190.5,557.9 C191.1,557.9 191.7,559.76 192.3,562.6 C192.93,565.59 193.57,570.35 194.2,575.6 C194.83,580.85 195.47,587.41 196.1,594.1 C196.7,600.44 197.3,608.58 197.9,614.6 C198.4,619.61 198.9,627.6 199.4,627.6 C199.97,627.6 200.53,627.6 201.1,626.6 C201.7,625.54 202.3,616.04 202.9,612.7 C203.53,609.17 204.17,606.2 204.8,606.2 C205.4,606.2 206,606.2 206.6,606.2 C207.23,606.2 207.87,610.38 208.5,612.7 C209.13,615.02 209.77,618.2 210.4,620.1 C211,621.9 211.6,623.9 212.2,623.9 C212.83,623.9 213.47,620.52 214.1,619.2 C214.83,617.68 215.57,616.73 216.3,615.5" fill="none" stroke="#800080" stroke-width="1.6" stroke-linejoin="round" stroke-linecap="round"/>
<rect x="250.9" y="360.7" width="186.7" height="286" fill="none" stroke="#000" stroke-width="1.35" stroke-linejoin="round"/>
<line x1="262.5" y1="360.7" x2="262.5" y2="366.3" stroke="#000" stroke-width="1.3" stroke-linecap="round"/>
<line x1="277.1" y1="360.7" x2="277.1" y2="364.2" stroke="#000" stroke-width="1.3" stroke-linecap="round"/>
<line x1="291.7" y1="360.7" x2="291.7" y2="366.3" stroke="#000" stroke-width="1.3" stroke-linecap="round"/>
<line x1="306.6" y1="360.7" x2="306.6" y2="364.2" stroke="#000" stroke-width="1.3" stroke-linecap="round"/>
<line x1="321.2" y1="360.7" x2="321.2" y2="366.3" stroke="#000" stroke-width="1.3" stroke-linecap="round"/>
<line x1="335.8" y1="360.7" x2="335.8" y2="364.2" stroke="#000" stroke-width="1.3" stroke-linecap="round"/>
<line x1="350.8" y1="360.7" x2="350.8" y2="366.3" stroke="#000" stroke-width="1.3" stroke-linecap="round"/>
<line x1="364.7" y1="360.7" x2="364.7" y2="364.2" stroke="#000" stroke-width="1.3" stroke-linecap="round"/>
<line x1="379.3" y1="360.7" x2="379.3" y2="366.3" stroke="#000" stroke-width="1.3" stroke-linecap="round"/>
<line x1="393.4" y1="360.7" x2="393.4" y2="364.2" stroke="#000" stroke-width="1.3" stroke-linecap="round"/>
<line x1="408" y1="360.7" x2="408" y2="366.3" stroke="#000" stroke-width="1.3" stroke-linecap="round"/>
<line x1="422.1" y1="360.7" x2="422.1" y2="364.2" stroke="#000" stroke-width="1.3" stroke-linecap="round"/>
<line x1="250.9" y1="646.7" x2="250.9" y2="652.7" stroke="#000" stroke-width="1.3" stroke-linecap="round"/>
<line x1="282.7" y1="646.7" x2="282.7" y2="650" stroke="#000" stroke-width="1.3" stroke-linecap="round"/>
<line x1="314.3" y1="646.7" x2="314.3" y2="652.7" stroke="#000" stroke-width="1.3" stroke-linecap="round"/>
<line x1="344.7" y1="646.7" x2="344.7" y2="650" stroke="#000" stroke-width="1.3" stroke-linecap="round"/>
<line x1="375.1" y1="646.7" x2="375.1" y2="652.7" stroke="#000" stroke-width="1.3" stroke-linecap="round"/>
<line x1="406" y1="646.7" x2="406" y2="650" stroke="#000" stroke-width="1.3" stroke-linecap="round"/>
<line x1="437.6" y1="646.7" x2="437.6" y2="652.7" stroke="#000" stroke-width="1.3" stroke-linecap="round"/>
<text x="251.4" y="667.5" font-size="15" text-anchor="middle" font-weight="normal">1700</text>
<text x="313.9" y="667.5" font-size="15" text-anchor="middle" font-weight="normal">1600</text>
<text x="375.3" y="667.5" font-size="15" text-anchor="middle" font-weight="normal">1500</text>
<text x="437.5" y="667.5" font-size="15" text-anchor="middle" font-weight="normal">1400</text>
<text x="259.1" y="692.8" font-size="17.5">Wave number (cm<tspan dy="-9.6" font-size="10.5">&#8722;1</tspan><tspan dy="9.6">)</tspan></text>
<text x="0" y="0" font-size="18" text-anchor="middle" transform="translate(237.5,505.1) rotate(-90)">Intensity (a.u.)</text>
<text x="409.7" y="395.2" font-size="18.8" text-anchor="middle" font-weight="bold">(E)</text>
<text x="275.9" y="385.7" font-size="13.8" text-anchor="middle" font-weight="normal">ZH-X</text>
<text x="271.4" y="551.7" font-size="13.8" text-anchor="middle" font-weight="normal">Z-X</text>
<text x="287.75" y="452.8" font-size="13.4" text-anchor="middle" font-weight="bold">B</text>
<text x="302.85" y="463.8" font-size="13.4" text-anchor="middle" font-weight="bold">L</text>
<text x="319" y="436.8" font-size="13.4" text-anchor="middle" font-weight="bold">H</text>
<text x="351.2" y="382.1" font-size="13.4" text-anchor="middle" font-weight="bold">B</text>
<text x="375.5" y="443.2" font-size="13.4" text-anchor="middle" font-weight="bold">B+L</text>
<text x="422.05" y="440.4" font-size="13.4" text-anchor="middle" font-weight="bold">L</text>
<path d="M251.4,486.5 C251.47,486.9 251.53,487.4 251.6,487.7 C252,489.52 252.4,490.62 252.8,491.4 C253.4,492.57 254,492.49 254.6,492.9 C255.43,493.46 256.27,494.2 257.1,494.2 C257.7,494.2 258.3,493.28 258.9,492.6 C259.5,491.92 260.1,491.12 260.7,490.1 C261.3,489.08 261.9,487.66 262.5,486.5 C263.03,485.47 263.57,483.5 264.1,483.5 C264.5,483.5 264.9,484.75 265.3,485.9 C265.73,487.15 266.17,489.24 266.6,490.8 C267.07,492.48 267.53,494.4 268,495.6 C268.6,497.15 269.2,498.7 269.8,498.7 C270.33,498.7 270.87,496.86 271.4,495.6 C271.9,494.42 272.4,491.4 272.9,491.4 C273.37,491.4 273.83,491.64 274.3,492 C274.83,492.41 275.37,493.14 275.9,493.8 C276.5,494.54 277.1,495.61 277.7,496.2 C278.33,496.82 278.97,497.4 279.6,497.4 C280.2,497.4 280.8,495.6 281.4,495.6 C281.87,495.6 282.33,495.6 282.8,496.2 C283.2,496.71 283.6,500.51 284,501.7 C284.43,502.99 284.87,503.5 285.3,503.5 C285.7,503.5 286.1,502.72 286.5,498 C286.73,495.25 286.97,488.81 287.2,484.7 C287.5,479.42 287.8,473.52 288.1,470.1 C288.5,465.54 288.9,462.6 289.3,462.2 C289.7,461.8 290.1,461.8 290.5,461.8 C290.9,461.8 291.3,464.1 291.7,466.5 C292.1,468.9 292.5,472.16 292.9,476.2 C293.2,479.23 293.5,482.41 293.8,487.1 C294.03,490.75 294.27,496.87 294.5,500.5 C294.67,503.1 294.83,506.5 295,506.5 C295.23,506.5 295.47,502.6 295.7,500.5 C296,497.8 296.3,493.81 296.6,492 C297.1,488.99 297.6,488.8 298.1,488.1 C298.6,487.4 299.1,487.4 299.6,487.4 C300.1,487.4 300.6,487.73 301.1,488.3 C301.6,488.87 302.1,489.46 302.6,490.8 C303.03,491.96 303.47,495.6 303.9,495.6 C304.3,495.6 304.7,492.94 305.1,492 C305.63,490.75 306.17,489.3 306.7,489.3 C307.17,489.3 307.63,489.85 308.1,490.8 C308.5,491.61 308.9,493.48 309.3,494.4 C309.63,495.17 309.97,496 310.3,496 C310.7,496 311.1,494.24 311.5,491.9 C311.97,489.17 312.43,483.97 312.9,480.3 C313.33,476.89 313.77,472.59 314.2,470.6 C314.87,467.55 315.53,467.2 316.2,467.2 C316.7,467.2 317.2,469.58 317.7,470.6 C318.23,471.69 318.77,473.5 319.3,473.5 C319.73,473.5 320.17,466.76 320.6,462.9 C321.07,458.75 321.53,452.27 322,449.4 C322.37,447.15 322.73,446.5 323.1,446.5 C323.57,446.5 324.03,448.16 324.5,451.4 C324.93,454.41 325.37,461.34 325.8,464.9 C326.43,470.11 327.07,474.1 327.7,476.4 C328.57,479.54 329.43,477.99 330.3,480.3 C330.93,481.99 331.57,484.78 332.2,488 C332.83,491.22 333.47,499.6 334.1,499.6 C334.73,499.6 335.37,499.23 336,498.6 C336.67,497.94 337.33,495.7 338,495.7 C338.83,495.7 339.67,495.7 340.5,495.7 C341.27,495.7 342.03,496.7 342.8,496.7 C343.43,496.7 344.07,488.5 344.7,480.3 C345.33,472.1 345.97,458.69 346.6,447.5 C347.13,438.08 347.67,428.96 348.2,418.6 C348.63,410.19 349.07,391.6 349.5,391.6 C350.03,391.6 350.57,391.6 351.1,391.6 C351.53,391.6 351.97,403.26 352.4,410.9 C352.93,420.31 353.47,432.2 354,443.6 C354.43,452.86 354.87,463 355.3,472.6 C355.77,482.94 356.23,499.71 356.7,503.4 C357.07,506.3 357.43,506.3 357.8,506.3 C358.27,506.3 358.73,499.55 359.2,497.6 C359.63,495.79 360.07,494.8 360.5,494.8 C361.03,494.8 361.57,501.5 362.1,501.5 C362.73,501.5 363.37,498.77 364,497.6 C364.77,496.18 365.53,493.8 366.3,493.8 C366.93,493.8 367.57,493.8 368.2,493.8 C368.8,493.8 369.4,495.96 370,497 C370.53,497.92 371.07,499.7 371.6,499.7 C372.27,499.7 372.93,497.58 373.6,495.6 C374.17,493.92 374.73,492.15 375.3,489 C375.83,486.03 376.37,481.39 376.9,477.4 C377.47,473.16 378.03,467.6 378.6,464.3 C379.13,461.2 379.67,458 380.2,458 C380.77,458 381.33,459.33 381.9,462.6 C382.33,465.1 382.77,469.98 383.2,474.1 C383.63,478.22 384.07,482.86 384.5,487.3 C384.9,491.4 385.3,497.3 385.7,499.7 C385.97,501.3 386.23,501.3 386.5,501.3 C386.93,501.3 387.37,496.4 387.8,496.4 C388.33,496.4 388.87,496.5 389.4,497.2 C389.97,497.94 390.53,499.89 391.1,500.8 C391.77,501.87 392.43,503 393.1,503 C393.63,503 394.17,502.72 394.7,501.8 C395.27,500.82 395.83,498.7 396.4,497.2 C397.03,495.53 397.67,493.72 398.3,492.3 C399.03,490.65 399.77,488.56 400.5,488.1 C401.3,487.59 402.1,487.92 402.9,487.3 C403.47,486.86 404.03,486.22 404.6,483.2 C405.03,480.89 405.47,477.55 405.9,472.5 C406.3,467.84 406.7,461.33 407.1,454.4 C407.47,448.05 407.83,437.64 408.2,432.9 C408.63,427.3 409.07,426.78 409.5,424.7 C409.83,423.1 410.17,421.4 410.5,421.4 C410.83,421.4 411.17,423.65 411.5,426.4 C411.83,429.15 412.17,433.69 412.5,437.9 C412.9,442.95 413.3,448.67 413.7,454.4 C414.07,459.65 414.43,465.74 414.8,470.8 C415.23,476.78 415.67,484.8 416.1,487.3 C416.77,491.14 417.43,489.98 418.1,491.4 C418.67,492.61 419.23,495.68 419.8,497.2 C420.5,499.08 421.2,501.3 421.9,501.3 C422.43,501.3 422.97,498.65 423.5,497.2 C424.07,495.66 424.63,493.47 425.2,492.3 C425.73,491.2 426.27,490.71 426.8,490.3 C427.37,489.86 427.93,489.8 428.5,489.8 C429.03,489.8 429.57,495.47 430.1,497.2 C430.83,499.58 431.57,500.47 432.3,501.3 C432.97,502.05 433.63,502.1 434.3,502.1 C434.83,502.1 435.37,501.06 435.9,498.8 C436.37,496.82 436.83,492.8 437.3,489.8" fill="none" stroke="#1e8b1e" stroke-width="1.6" stroke-linejoin="round" stroke-linecap="round"/>
<path d="M251.4,629.5 C251.67,629.43 251.93,629.44 252.2,629.3 C252.8,628.97 253.4,627.8 254,627.8 C254.77,627.8 255.53,628.9 256.3,628.9 C257.03,628.9 257.77,628.29 258.5,627.8 C259.27,627.29 260.03,626.21 260.8,625.9 C261.53,625.6 262.27,625.6 263,625.6 C263.77,625.6 264.53,626.77 265.3,627.4 C266.03,628 266.77,629.3 267.5,629.3 C268.27,629.3 269.03,628.92 269.8,628.6 C270.3,628.39 270.8,627.8 271.3,627.8 C271.8,627.8 272.3,628.94 272.8,629.3 C273.43,629.75 274.07,630.1 274.7,630.1 C275.4,630.1 276.1,628.43 276.8,627.4 C277.47,626.42 278.13,624.1 278.8,624.1 C279.43,624.1 280.07,624.16 280.7,624.8 C281.3,625.41 281.9,626.67 282.5,627.8 C283.1,628.93 283.7,630.83 284.3,631.6 C284.8,632.24 285.3,632.3 285.8,632.3 C286.3,632.3 286.8,626.97 287.3,624.1 C287.8,621.23 288.3,618.1 288.8,615.1 C289.3,612.1 289.8,608.35 290.3,606.1 C290.8,603.85 291.3,602.61 291.8,601.6 C292.37,600.45 292.93,599.8 293.5,599.8 C293.93,599.8 294.37,602.93 294.8,604.6 C295.3,606.52 295.8,609.9 296.3,610.6 C296.8,611.3 297.3,611.3 297.8,611.3 C298.3,611.3 298.8,609.1 299.3,609.1 C299.97,609.1 300.63,609.17 301.3,609.8 C301.8,610.27 302.3,610.72 302.8,612.1 C303.3,613.48 303.8,615.98 304.3,618.1 C304.8,620.22 305.3,624.8 305.8,624.8 C306.3,624.8 306.8,624.8 307.3,624.1 C307.8,623.4 308.3,621.85 308.8,619.6 C309.3,617.35 309.8,614.91 310.3,610.6 C310.7,607.15 311.1,603.27 311.5,597.1 C311.83,591.96 312.17,582.55 312.5,577.5 C312.97,570.43 313.43,566.5 313.9,562.5 C314.37,558.5 314.83,555.63 315.3,553.5 C315.63,551.98 315.97,550.8 316.3,550.8 C316.7,550.8 317.1,553.8 317.5,556.5 C317.9,559.2 318.3,563.2 318.7,567 C319.07,570.49 319.43,575.87 319.8,578.3 C320.3,581.62 320.8,581.71 321.3,582.8 C322.03,584.4 322.77,584.95 323.5,585.8 C324.27,586.69 325.03,586.97 325.8,588 C326.53,588.98 327.27,590.39 328,591.8 C328.6,592.95 329.2,592.72 329.8,595.6 C330.2,597.52 330.6,601.7 331,604.6 C331.5,608.23 332,612.23 332.5,615.1 C333,617.97 333.5,620.3 334,621.8 C334.5,623.3 335,624.1 335.5,624.1 C336.1,624.1 336.7,623.3 337.3,623.3 C337.8,623.3 338.3,625.42 338.8,626.3 C339.47,627.47 340.13,628.45 340.8,629.3 C341.43,630.11 342.07,631.3 342.7,631.3 C343.2,631.3 343.7,631.3 344.2,629.3 C344.57,627.83 344.93,620.49 345.3,615.1 C345.63,610.2 345.97,604.07 346.3,598.6 C346.7,592.03 347.1,584.52 347.5,579 C347.9,573.48 348.3,569.39 348.7,565.5 C349.07,561.94 349.43,556.5 349.8,556.5 C350.13,556.5 350.47,557.61 350.8,558 C351.2,558.47 351.6,558.05 352,560.3 C352.4,562.55 352.8,570.52 353.2,577.5 C353.57,583.89 353.93,593.58 354.3,600.1 C354.63,606.02 354.97,610.52 355.3,615.1 C355.7,620.6 356.1,626.6 356.5,630.1 C356.9,633.6 357.3,635.34 357.7,636.1 C358.07,636.8 358.43,636.8 358.8,636.8 C359.3,636.8 359.8,632.36 360.3,630.8 C360.97,628.72 361.63,627.79 362.3,626.3 C362.9,624.96 363.5,622.3 364.1,622.3 C364.5,622.3 364.9,622.3 365.3,622.3 C365.8,622.3 366.3,627.04 366.8,628.6 C367.4,630.48 368,632.3 368.6,632.3 C369.13,632.3 369.67,632.3 370.2,631.5 C370.83,630.55 371.47,629.24 372.1,626.6 C372.77,623.82 373.43,617.67 374.1,615.1 C374.8,612.4 375.5,612.9 376.2,611 C376.9,609.1 377.6,605.33 378.3,603.7 C378.87,602.38 379.43,601.7 380,601.7 C380.47,601.7 380.93,603.5 381.4,605.8 C381.9,608.27 382.4,613.57 382.9,616.2 C383.57,619.71 384.23,621.94 384.9,623.4 C385.8,625.37 386.7,625.5 387.6,625.5 C388.5,625.5 389.4,624.1 390.3,624.1 C391,624.1 391.7,628.13 392.4,629.7 C393.1,631.27 393.8,633.5 394.5,633.5 C395.2,633.5 395.9,632.98 396.6,632 C397.07,631.35 397.53,630.08 398,629.1 C398.3,628.47 398.6,627.58 398.9,627.2 C399.37,626.61 399.83,626.6 400.3,626.6 C400.73,626.6 401.17,628.1 401.6,628.1 C402.13,628.1 402.67,628.1 403.2,626.8 C403.43,626.23 403.67,623.78 403.9,621.8 C404.1,620.1 404.3,618.36 404.5,615.9 C404.63,614.26 404.77,615.32 404.9,610 C404.97,607.34 405.03,600.1 405.1,597 C405.27,589.25 405.43,587.33 405.6,583 C405.8,577.8 406,572.79 406.2,568.6 C406.47,563.02 406.73,558.59 407,554.3 C407.33,548.94 407.67,545.51 408,540 C408.27,535.59 408.53,529.33 408.8,525 C409.07,520.67 409.33,515.6 409.6,514 C409.83,512.6 410.07,512.6 410.3,512.6 C410.53,512.6 410.77,512.6 411,514 C411.43,516.6 411.87,533.84 412.3,540 C412.87,548.05 413.43,548.23 414,554.3 C414.37,558.23 414.73,562.94 415.1,568.6 C415.37,572.72 415.63,578.62 415.9,582.9 C416.23,588.25 416.57,591.15 416.9,597.1 C417.1,600.67 417.3,606.97 417.5,610 C417.7,613.03 417.9,613.69 418.1,615.3 C418.4,617.71 418.7,617.98 419,621.8 C419.13,623.5 419.27,627.91 419.4,629.1 C419.8,632.66 420.2,632.42 420.6,632.7 C421.03,633 421.47,633 421.9,633 C422.37,633 422.83,630 423.3,629.1 C423.83,628.07 424.37,627.95 424.9,627.4 C425.57,626.71 426.23,625.4 426.9,625.4 C427.33,625.4 427.77,626.63 428.2,627.4 C428.63,628.17 429.07,629.68 429.5,630 C430.03,630.4 430.57,630.4 431.1,630.4 C431.57,630.4 432.03,629.9 432.5,629.4 C432.8,629.08 433.1,628.1 433.4,628.1 C433.73,628.1 434.07,628.89 434.4,629.1 C434.83,629.37 435.27,629.4 435.7,629.4 C436.23,629.4 436.77,629.2 437.3,629.1" fill="none" stroke="#383838" stroke-width="1.4" stroke-linejoin="round" stroke-linecap="round"/>
<rect x="480.5" y="358" width="187.3" height="287.9" fill="none" stroke="#000" stroke-width="1.35" stroke-linejoin="round"/>
<line x1="486.5" y1="358" x2="486.5" y2="363.6" stroke="#000" stroke-width="1.3" stroke-linecap="round"/>
<line x1="501.6" y1="358" x2="501.6" y2="361.5" stroke="#000" stroke-width="1.3" stroke-linecap="round"/>
<line x1="516.7" y1="358" x2="516.7" y2="363.6" stroke="#000" stroke-width="1.3" stroke-linecap="round"/>
<line x1="532" y1="358" x2="532" y2="361.5" stroke="#000" stroke-width="1.3" stroke-linecap="round"/>
<line x1="547.4" y1="358" x2="547.4" y2="363.6" stroke="#000" stroke-width="1.3" stroke-linecap="round"/>
<line x1="562" y1="358" x2="562" y2="361.5" stroke="#000" stroke-width="1.3" stroke-linecap="round"/>
<line x1="577" y1="358" x2="577" y2="363.6" stroke="#000" stroke-width="1.3" stroke-linecap="round"/>
<line x1="592.1" y1="358" x2="592.1" y2="361.5" stroke="#000" stroke-width="1.3" stroke-linecap="round"/>
<line x1="607.4" y1="358" x2="607.4" y2="363.6" stroke="#000" stroke-width="1.3" stroke-linecap="round"/>
<line x1="622.8" y1="358" x2="622.8" y2="361.5" stroke="#000" stroke-width="1.3" stroke-linecap="round"/>
<line x1="637.9" y1="358" x2="637.9" y2="363.6" stroke="#000" stroke-width="1.3" stroke-linecap="round"/>
<line x1="653.2" y1="358" x2="653.2" y2="361.5" stroke="#000" stroke-width="1.3" stroke-linecap="round"/>
<line x1="480.5" y1="645.9" x2="480.5" y2="651.5" stroke="#000" stroke-width="1.3" stroke-linecap="round"/>
<line x1="511.8" y1="645.9" x2="511.8" y2="649.2" stroke="#000" stroke-width="1.3" stroke-linecap="round"/>
<line x1="542.4" y1="645.9" x2="542.4" y2="651.5" stroke="#000" stroke-width="1.3" stroke-linecap="round"/>
<line x1="574.2" y1="645.9" x2="574.2" y2="649.2" stroke="#000" stroke-width="1.3" stroke-linecap="round"/>
<line x1="605.6" y1="645.9" x2="605.6" y2="651.5" stroke="#000" stroke-width="1.3" stroke-linecap="round"/>
<line x1="636.4" y1="645.9" x2="636.4" y2="649.2" stroke="#000" stroke-width="1.3" stroke-linecap="round"/>
<line x1="667.8" y1="645.9" x2="667.8" y2="651.5" stroke="#000" stroke-width="1.3" stroke-linecap="round"/>
<text x="481.4" y="666.9" font-size="15" text-anchor="middle" font-weight="normal">1700</text>
<text x="544" y="666.9" font-size="15" text-anchor="middle" font-weight="normal">1600</text>
<text x="606.2" y="666.9" font-size="15" text-anchor="middle" font-weight="normal">1500</text>
<text x="668.5" y="666.9" font-size="15" text-anchor="middle" font-weight="normal">1400</text>
<text x="498" y="690.6" font-size="17.5">Wave number (cm<tspan dy="-9.6" font-size="10.5">&#8722;1</tspan><tspan dy="9.6">)</tspan></text>
<text x="0" y="0" font-size="18" text-anchor="middle" transform="translate(469.05,505) rotate(-90)">Intensity (a.u.)</text>
<text x="639.1" y="395.2" font-size="18.8" text-anchor="middle" font-weight="bold">(F)</text>
<text x="505.55" y="384" font-size="13.8" text-anchor="middle" font-weight="normal">ZH-A</text>
<text x="500.9" y="550.5" font-size="13.8" text-anchor="middle" font-weight="normal">Z-A</text>
<text x="545.7" y="383" font-size="13.4" text-anchor="middle" font-weight="bold">H</text>
<text x="529.8" y="435.7" font-size="13.4" text-anchor="middle" font-weight="bold">B</text>
<text x="578.3" y="402.1" font-size="13.4" text-anchor="middle" font-weight="bold">B</text>
<text x="609.7" y="417.5" font-size="13.4" text-anchor="middle" font-weight="bold">B+L</text>
<text x="643.3" y="449.4" font-size="13.4" text-anchor="middle" font-weight="bold">L</text>
<path d="M480.8,489.2 C481.87,489.4 482.93,489.8 484,489.8 C485,489.8 486,488.2 487,488.2 C488,488.2 489,491.2 490,491.2 C491,491.2 492,488.95 493,488.2 C494.33,487.2 495.67,486.2 497,486.2 C498.33,486.2 499.67,487.47 501,488.2 C502.33,488.93 503.67,490 505,490.6 C506.37,491.21 507.73,491.8 509.1,491.8 C510.1,491.8 511.1,490.67 512.1,489.8 C513.1,488.93 514.1,486.6 515.1,486.6 C515.77,486.6 516.43,487.83 517.1,488.6 C517.77,489.37 518.43,491.2 519.1,491.2 C519.77,491.2 520.43,491.2 521.1,490.2 C521.57,489.5 522.03,484.99 522.5,482.2 C523.03,479.01 523.57,474.31 524.1,472.2 C524.9,469.03 525.7,469.33 526.5,468.2 C527.37,466.98 528.23,466.57 529.1,465.2 C529.77,464.15 530.43,464.01 531.1,461.2 C531.57,459.23 532.03,454.88 532.5,452.2 C533.03,449.14 533.57,445.7 534.1,444.1 C534.63,442.5 535.17,442.5 535.7,442.5 C536.37,442.5 537.03,448.04 537.7,450.2 C538.33,452.25 538.97,455.2 539.6,455.2 C540.27,455.2 540.93,452.72 541.6,448.2 C542.27,443.68 542.93,434.45 543.6,428.1 C544.27,421.75 544.93,414.77 545.6,410.1 C546.07,406.83 546.53,404.7 547,403.1 C547.47,401.5 547.93,400.5 548.4,400.5 C548.93,400.5 549.47,402.87 550,405.1 C550.67,407.89 551.33,413.85 552,416.1 C552.53,417.9 553.07,418.1 553.6,418.1 C554.27,418.1 554.93,410.45 555.6,406.1 C556.27,401.75 556.93,396.02 557.6,392 C558.27,387.98 558.93,384.17 559.6,382 C560.27,379.83 560.93,379 561.6,379 C562.3,379 563,379.09 563.7,381 C564.37,382.82 565.03,384.48 565.7,390 C566.37,395.52 567.03,403.89 567.7,414.1 C568.17,421.25 568.63,431.42 569.1,440.1 C569.57,448.78 570.03,459.08 570.5,466.2 C571.03,474.34 571.57,485.2 572.1,485.2 C572.63,485.2 573.17,483.94 573.7,478.2 C574.17,473.18 574.63,462.22 575.1,454.2 C575.57,446.18 576.03,435.72 576.5,430.1 C577.03,423.68 577.57,419.1 578.1,419.1 C578.63,419.1 579.17,419.1 579.7,422.1 C580.17,424.72 580.63,431.75 581.1,438.1 C581.57,444.45 582.03,453.31 582.5,460.2 C583.03,468.08 583.57,477.2 584.1,482.2 C584.63,487.2 585.17,490.2 585.7,490.2 C586.37,490.2 587.03,490.09 587.7,489.8 C588.5,489.45 589.3,488.2 590.1,488.2 C591.1,488.2 592.1,488.6 593.1,488.6 C594.1,488.6 595.1,488.2 596.1,488.2 C596.73,488.2 597.37,489 598,489 C598.83,489 599.67,486.63 600.5,484.8 C601.2,483.26 601.9,482.09 602.6,479.1 C603.17,476.68 603.73,473.77 604.3,469.2 C604.83,464.9 605.37,458.04 605.9,452.7 C606.47,447.03 607.03,440.46 607.6,436.2 C608.13,432.2 608.67,427.7 609.2,427.7 C609.77,427.7 610.33,427.7 610.9,428 C611.43,428.28 611.97,435.43 612.5,441.2 C613.03,446.97 613.57,455.93 614.1,462.6 C614.67,469.69 615.23,477.51 615.8,482.4 C616.47,488.15 617.13,493.28 617.8,493.6 C618.43,493.9 619.07,493.9 619.7,493.9 C620.43,493.9 621.17,490.3 621.9,490.3 C622.6,490.3 623.3,490.5 624,490.6 C624.77,490.7 625.53,490.9 626.3,490.9 C627.03,490.9 627.77,489.82 628.5,489 C629.3,488.1 630.1,485.7 630.9,485.7 C631.47,485.7 632.03,485.7 632.6,487.3 C633.03,488.52 633.47,493.17 633.9,495.6 C634.47,498.78 635.03,501.66 635.6,503.8 C635.97,505.18 636.33,506.8 636.7,506.8 C637.1,506.8 637.5,502.66 637.9,498.8 C638.33,494.62 638.77,487.88 639.2,482.4 C639.63,476.92 640.07,470.02 640.5,465.9 C640.93,461.78 641.37,457.7 641.8,457.7 C642.3,457.7 642.8,458.57 643.3,461 C643.73,463.11 644.17,466.78 644.6,470.8 C645.1,475.43 645.6,483.43 646.1,487.3 C646.53,490.65 646.97,493.1 647.4,493.1 C648.07,493.1 648.73,493.1 649.4,493.1 C650.1,493.1 650.8,491.3 651.5,490.6 C652.33,489.77 653.17,488.6 654,488.6 C654.67,488.6 655.33,489.95 656,490.6 C656.7,491.28 657.4,492.6 658.1,492.6 C658.93,492.6 659.77,492.6 660.6,492.3 C661.43,492 662.27,490.79 663.1,489.8 C663.9,488.85 664.7,487.91 665.5,486.5 C666.13,485.38 666.77,483.77 667.4,482.4" fill="none" stroke="#ff0000" stroke-width="1.6" stroke-linejoin="round" stroke-linecap="round"/>
<path d="M480.8,616.4 C481.63,616.4 482.47,616.4 483.3,616.4 C484.07,616.4 484.83,613.1 485.6,613.1 C486.2,613.1 486.8,613.1 487.4,613.1 C488.03,613.1 488.67,615.5 489.3,615.5 C490.03,615.5 490.77,614.25 491.5,612.7 C492.13,611.36 492.77,608.53 493.4,607.1 C494,605.75 494.6,604.3 495.2,604.3 C495.83,604.3 496.47,604.7 497.1,606.2 C497.6,607.38 498.1,610.1 498.6,611.8 C499.2,613.84 499.8,615.97 500.4,617.3 C501.17,619 501.93,619.79 502.7,620.5 C503.5,621.24 504.3,621.6 505.1,621.6 C505.7,621.6 506.3,619.12 506.9,618.6 C507.7,617.9 508.5,617.9 509.3,617.9 C509.93,617.9 510.57,618.3 511.2,618.3 C511.83,618.3 512.47,617.5 513.1,614.6 C513.7,611.85 514.3,605.68 514.9,601.6 C515.53,597.3 516.17,590.64 516.8,589.5 C517.3,588.6 517.8,588.6 518.3,588.6 C518.83,588.6 519.37,593.7 519.9,597.9 C520.33,601.31 520.77,607.37 521.2,610.8 C521.57,613.7 521.93,617.3 522.3,617.3 C522.73,617.3 523.17,610.35 523.6,603.4 C524.03,596.45 524.47,584.26 524.9,575.6 C525.4,565.6 525.9,556.07 526.4,547.7 C526.9,539.33 527.4,531.33 527.9,525.4 C528.33,520.26 528.77,513.9 529.2,513.9 C529.7,513.9 530.2,513.9 530.7,516.1 C531.13,518.01 531.57,523.3 532,527.3 C532.5,531.92 533,537.15 533.5,542.1 C534,547.05 534.5,552.19 535,557 C535.53,562.13 536.07,571.9 536.6,571.9 C537.23,571.9 537.87,570.9 538.5,570.9 C539,570.9 539.5,570.9 540,571.3 C540.47,571.67 540.93,573.77 541.4,574.7 C541.83,575.56 542.27,576.7 542.7,576.7 C543.17,576.7 543.63,573.18 544.1,572 C544.77,570.31 545.43,568.6 546.1,568.6 C546.7,568.6 547.3,569.66 547.9,571 C548.37,572.04 548.83,573.21 549.3,575.4 C549.73,577.43 550.17,580.88 550.6,583.5 C551.07,586.32 551.53,589.55 552,591.7 C552.53,594.16 553.07,594.64 553.6,597.1 C554.07,599.25 554.53,602.94 555,605.3 C555.53,608 556.07,610.15 556.6,612.1 C557.2,614.29 557.8,617.6 558.4,617.6 C558.83,617.6 559.27,617.6 559.7,617.6 C560.3,617.6 560.9,614.45 561.5,613.5 C562.03,612.66 562.57,612.1 563.1,612.1 C563.67,612.1 564.23,614.6 564.8,614.6 C565.37,614.6 565.93,614.1 566.5,614.1 C567.2,614.1 567.9,614.8 568.6,614.8 C569.13,614.8 569.67,614.22 570.2,613.5 C570.8,612.69 571.4,610.1 572,610.1 C572.43,610.1 572.87,610.1 573.3,610.7 C573.77,611.35 574.23,615.5 574.7,615.5 C575,615.5 575.3,615.5 575.6,613.5 C575.97,611.06 576.33,601.89 576.7,598.5 C577.17,594.18 577.63,593.52 578.1,591.7 C578.57,589.88 579.03,588.44 579.5,587.6 C580.03,586.64 580.57,586.5 581.1,586.5 C581.53,586.5 581.97,586.71 582.4,589 C582.77,590.94 583.13,593.72 583.5,598.5 C583.73,601.54 583.97,609 584.2,610.7 C584.67,614.1 585.13,614.1 585.6,614.1 C586.27,614.1 586.93,613.13 587.6,612.8 C588.3,612.46 589,612.1 589.7,612.1 C590.27,612.1 590.83,612.87 591.4,613.5 C591.97,614.13 592.53,615.9 593.1,615.9 C593.67,615.9 594.23,615.5 594.8,615.5 C595.37,615.5 595.93,617.6 596.5,617.6 C597.07,617.6 597.63,613.54 598.2,612.8 C598.8,612.01 599.4,612.03 600,612 C600.6,611.97 601.2,612 601.8,611.8 C602.2,611.67 602.6,610.46 603,608.4 C603.43,606.17 603.87,602.09 604.3,598.7 C604.7,595.57 605.1,592.97 605.5,588.9 C605.9,584.83 606.3,577.58 606.7,574.3 C606.97,572.11 607.23,570.9 607.5,570.9 C607.93,570.9 608.37,570.9 608.8,572.5 C609.2,573.98 609.6,579.25 610,582.8 C610.4,586.35 610.8,589.53 611.2,593.8 C611.53,597.36 611.87,602.95 612.2,606 C612.6,609.66 613,611.38 613.4,613.3 C613.8,615.22 614.2,616.62 614.6,617.5 C615.2,618.82 615.8,619.1 616.4,619.1 C617,619.1 617.6,618.21 618.2,617.9 C618.83,617.57 619.47,617.49 620.1,617.2 C620.63,616.95 621.17,617.14 621.7,616.3 C622.17,615.57 622.63,613.79 623.1,612.7 C623.5,611.77 623.9,610.2 624.3,610.2 C624.93,610.2 625.57,611.4 626.2,611.4 C627,611.4 627.8,611.4 628.6,611.4 C629.2,611.4 629.8,611.46 630.4,612 C630.9,612.45 631.4,614.2 631.9,614.2 C632.43,614.2 632.97,614.2 633.5,613.3 C633.9,612.62 634.3,609.49 634.7,608.4 C635.23,606.94 635.77,606.2 636.3,606.2 C636.87,606.2 637.43,606.78 638,607.4 C638.5,607.94 639,609.6 639.5,609.6 C640.13,609.6 640.77,609.6 641.4,607.2 C641.8,605.68 642.2,597.47 642.6,592.6 C642.93,588.54 643.27,583.02 643.6,580.4 C644,577.26 644.4,576.2 644.8,576.2 C645.2,576.2 645.6,576.2 646,576.8 C646.4,577.4 646.8,580.17 647.2,582.8 C647.6,585.43 648,588.73 648.4,592.6 C648.8,596.47 649.2,602.46 649.6,606 C650.03,609.84 650.47,612.34 650.9,614.5 C651.37,616.83 651.83,619.3 652.3,619.3 C652.8,619.3 653.3,616.97 653.8,615.7 C654.33,614.34 654.87,612.04 655.4,611.4 C655.9,610.8 656.4,610.8 656.9,610.8 C657.47,610.8 658.03,612.13 658.6,612.7 C659.27,613.37 659.93,613.96 660.6,614.5 C661.17,614.96 661.73,615.7 662.3,615.7 C662.83,615.7 663.37,613.66 663.9,612.7 C664.5,611.62 665.1,610.33 665.7,609.6 C666.27,608.91 666.83,608.8 667.4,608.4" fill="none" stroke="#000000" stroke-width="1.5" stroke-linejoin="round" stroke-linecap="round"/>
</svg>
</body></html>
